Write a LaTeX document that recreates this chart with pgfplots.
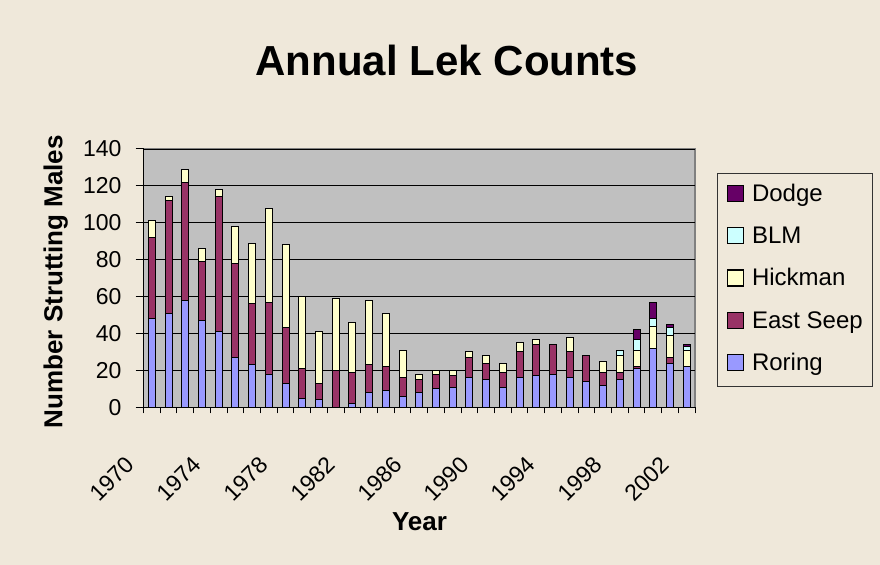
\documentclass[border=0pt]{standalone}
\usepackage{fontspec}
\setmainfont{Liberation Sans}
\usepackage{pgfplots}
\usepackage{pgfplotstable}
\pgfplotsset{compat=1.18}
\definecolor{bg}{RGB}{239,232,218}
\definecolor{plotbg}{RGB}{192,192,192}
\definecolor{roring}{RGB}{153,153,255}
\definecolor{eastseep}{RGB}{153,51,102}
\definecolor{hickman}{RGB}{255,255,204}
\definecolor{blm}{RGB}{204,255,255}
\definecolor{dodge}{RGB}{102,0,102}
\definecolor{frame}{RGB}{128,128,128}

\pgfplotstableread{
year R E H B D
1970 48 44 9 0 0
1971 51 61 2 0 0
1972 58 64 7 0 0
1973 47 32 7 0 0
1974 41 73 4 0 0
1975 27 51 20 0 0
1976 23 33 33 0 0
1977 18 39 51 0 0
1978 13 30 45 0 0
1979 5 16 39 0 0
1980 4 9 28 0 0
1981 0 20 39 0 0
1982 2 17 27 0 0
1983 8 15 35 0 0
1984 9 13 29 0 0
1985 6 10 15 0 0
1986 8 7 3 0 0
1987 10 8 2 0 0
1988 11 6 3 0 0
1989 16 11 3 0 0
1990 15 9 4 0 0
1991 11 8 5 0 0
1992 16 14 5 0 0
1993 17 17 3 0 0
1994 18 16 0 0 0
1995 16 14 8 0 0
1996 14 14 0 0 0
1997 12 7 6 0 0
1998 15 4 9 3 0
1999 21 1 9 6 5
2000 32 0 12 4 9
2001 24 3 12 4 2
2002 22 0 9 2 1
}\data

\begin{document}
\begin{tikzpicture}
\path[use as bounding box, fill=bg] (0bp,0bp) rectangle (880bp,565bp);
\node[anchor=base, font=\fontsize{42bp}{48bp}\selectfont\bfseries] at (447bp,489bp) {Annual Lek Counts};
\begin{axis}[
  at={(143.5bp,157.7bp)}, anchor=south west,
  scale only axis, width=551.5bp, height=258.3bp,
  ybar stacked, bar width=7bp,
  xmin=1969.5, xmax=2002.5, ymin=0, ymax=140,
  ytick={0,20,...,140},
  xtick={1970,1974,...,2002},
  minor xtick={1969.5,1970.5,...,2002.5},
  axis x line*=bottom, axis y line*=left,
  axis line style={black, line width=1bp},
  tick align=outside,
  major tick length=8bp, minor tick length=6bp,
  major x tick style={draw=none},
  minor x tick style={black, line width=1bp},
  major y tick style={black, line width=1bp},
  ymajorgrids, major grid style={black, line width=0.8bp},
  axis background/.style={fill=plotbg, draw=frame, line width=1.2bp},
  /pgf/number format/assume math mode=true,
  /pgf/number format/1000 sep={},
  tick label style={font=\fontsize{23bp}{27bp}\selectfont},
  yticklabel style={anchor=east, inner sep=0pt, xshift=-13.8bp},
  xticklabel style={xshift=-21.5bp, yshift=-45bp, rotate=45, anchor=east, inner sep=0pt},
  legend style={at={(1.0394,0.906)}, anchor=north west, draw=black!80, fill=none,
    line width=0.8bp, inner xsep=10bp, inner ysep=10.5bp, row sep=20.4bp, column sep=7.7bp,
    nodes={inner sep=0pt, text height=17bp, text depth=5bp, font=\fontsize{24bp}{28bp}\selectfont}},
  legend cell align=left,
  legend reversed,
  legend image code/.code={\draw[#1, draw=black, line width=1.2bp] (0bp,-6bp) rectangle (16bp,10bp);},
]
\addplot[fill=roring, draw=black, line width=1bp] table[x=year, y=R] {\data};
\addlegendentry{Roring}
\addplot[fill=eastseep, draw=black, line width=1bp] table[x=year, y=E] {\data};
\addlegendentry{East Seep}
\addplot[fill=hickman, draw=black, line width=1bp] table[x=year, y=H] {\data};
\addlegendentry{Hickman}
\addplot[fill=blm, draw=black, line width=1bp] table[x=year, y=B] {\data};
\addlegendentry{BLM}
\addplot[fill=dodge, draw=black, line width=1bp] table[x=year, y=D] {\data};
\addlegendentry{Dodge}
\end{axis}
\node[anchor=base, font=\fontsize{26bp}{30bp}\selectfont\bfseries] at (419.5bp,35bp) {Year};
\node[anchor=base, rotate=90, font=\fontsize{26bp}{30bp}\selectfont\bfseries] at (62.3bp,283.3bp) {Number Strutting Males};
\end{tikzpicture}
\end{document}
